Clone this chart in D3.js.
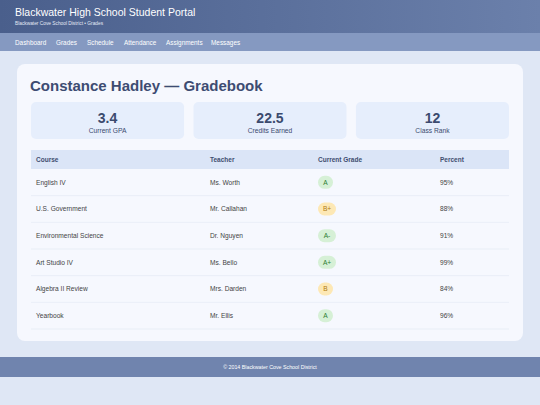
<!DOCTYPE html>
<html><head><meta charset="utf-8">
<script src="https://cdn.jsdelivr.net/npm/d3@7"></script>
<style>
body{margin:0;width:540px;height:405px;background:#dfe7f5;font-family:"Liberation Sans",Arial,sans-serif;overflow:hidden}
svg{display:block}
</style></head><body>
<svg id="page" width="540" height="405"></svg>
<script>
const navItems = ['Dashboard','Grades','Schedule','Attendance','Assignments','Messages'];
const statValues = ['3.4','22.5','12'];
const statLabels = ['Current GPA','Credits Earned','Class Rank'];
const columns = ['Course','Teacher','Current Grade','Percent'];
const courses = ['English IV','U.S. Government','Environmental Science','Art Studio IV','Algebra II Review','Yearbook'];
const teachers = ['Ms. Worth','Mr. Callahan','Dr. Nguyen','Ms. Bello','Mrs. Darden','Mr. Ellis'];
const grades = ['A','B+','A-','A+','B','A'];
const percents = [95,88,91,99,84,96];

const svg = d3.select('#page');
const defs = svg.append('defs');
const g1 = defs.append('linearGradient').attr('id','hdr');
g1.append('stop').attr('offset','0%').attr('stop-color','#4a5f8c');
g1.append('stop').attr('offset','100%').attr('stop-color','#6b80ab');

// header
svg.append('rect').attr('width',540).attr('height',33).attr('fill','url(#hdr)');
svg.append('text').attr('x',15).attr('y',16).attr('fill','#fff').attr('font-size',10.5)
  .text('Blackwater High School Student Portal');
svg.append('text').attr('x',15).attr('y',25).attr('fill','#e4eaf6').attr('font-size',4.8)
  .text('Blackwater Cove School District • Grades');

// nav
svg.append('rect').attr('y',33).attr('width',540).attr('height',18).attr('fill','#8599c1');
const navX = [15,56,87,124,166,211];
svg.selectAll('.nav').data(navItems).join('text')
  .attr('x',(d,i)=>navX[i]).attr('y',44.5).attr('fill','#fff').attr('font-size',6.4).text(d=>d);

// card
svg.append('rect').attr('x',17).attr('y',64).attr('width',506).attr('height',277).attr('rx',8)
  .attr('fill','#f6f8fe');
svg.append('text').attr('x',30).attr('y',91).attr('fill','#3d4c72').attr('font-size',15)
  .attr('font-weight','bold').text('Constance Hadley — Gradebook');

// stats
const sx = d3.scaleBand().domain(d3.range(3)).range([31,509]).paddingInner(0.058);
const st = svg.selectAll('.stat').data(statValues).join('g')
  .attr('transform',(d,i)=>`translate(${sx(i)},102)`);
st.append('rect').attr('width',sx.bandwidth()).attr('height',37).attr('rx',5).attr('fill','#e6eefc');
st.append('text').attr('x',sx.bandwidth()/2).attr('y',21).attr('text-anchor','middle')
  .attr('font-size',14).attr('font-weight','bold').attr('fill','#3b4a6e').text(d=>d);
st.append('text').attr('x',sx.bandwidth()/2).attr('y',31).attr('text-anchor','middle')
  .attr('font-size',6.7).attr('fill','#3b4a6e').text((d,i)=>statLabels[i]);

// table
const colX = [36,210,318,440];
svg.append('rect').attr('x',31).attr('y',150).attr('width',478).attr('height',19).attr('fill','#dbe5f7');
svg.selectAll('.th').data(columns).join('text')
  .attr('x',(d,i)=>colX[i]).attr('y',162).attr('font-size',6.5).attr('font-weight','bold')
  .attr('fill','#3f4e70').text(d=>d);

const ry = d3.scaleBand().domain(d3.range(courses.length)).range([169,329]);
const rows = svg.selectAll('.row').data(courses).join('g')
  .attr('transform',(d,i)=>`translate(0,${ry(i)})`);
rows.append('line').attr('x1',31).attr('x2',509).attr('y1',ry.bandwidth()).attr('y2',ry.bandwidth())
  .attr('stroke','#e6ebf5').attr('stroke-width',0.8);
const cy = ry.bandwidth()/2 + 2.3;
rows.append('text').attr('x',colX[0]).attr('y',cy).attr('font-size',6.6).attr('fill','#444').text(d=>d);
rows.append('text').attr('x',colX[1]).attr('y',cy).attr('font-size',6.6).attr('fill','#444').text((d,i)=>teachers[i]);
rows.append('text').attr('x',colX[3]).attr('y',cy).attr('font-size',6.6).attr('fill','#444').text((d,i)=>percents[i]+'%');
const isB = g => g.startsWith('B');
rows.append('rect').attr('x',colX[2]).attr('y',ry.bandwidth()/2-6.5)
  .attr('width',(d,i)=>grades[i].length>1?18:15).attr('height',13).attr('rx',6.5)
  .attr('fill',(d,i)=>isB(grades[i])?'#fde8b5':'#d6f0d6');
rows.append('text').attr('x',(d,i)=>colX[2]+(grades[i].length>1?9:7.5)).attr('y',cy)
  .attr('text-anchor','middle').attr('font-size',6.6)
  .attr('fill',(d,i)=>isB(grades[i])?'#b07a10':'#2e7d32').text((d,i)=>grades[i]);

// footer
svg.append('rect').attr('y',357).attr('width',540).attr('height',20).attr('fill','#7084ae');
svg.append('text').attr('x',270).attr('y',369).attr('text-anchor','middle').attr('font-size',5.3)
  .attr('fill','#fff').text('© 2014 Blackwater Cove School District');
</script></body></html>
